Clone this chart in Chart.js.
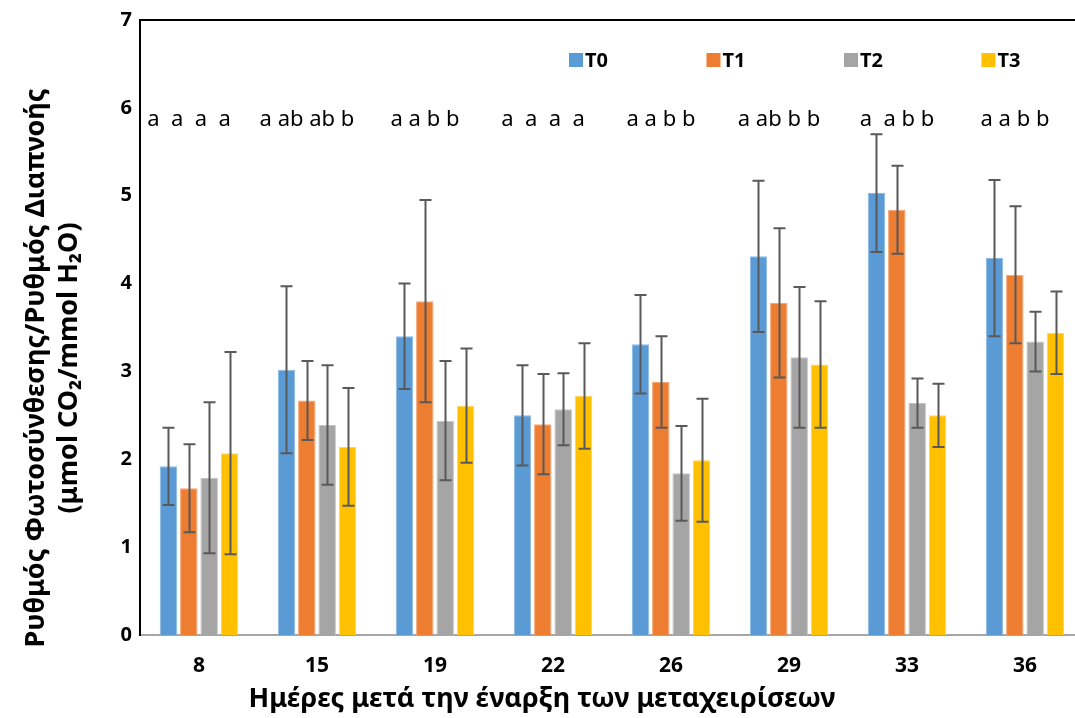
<!DOCTYPE html>
<html>
<head>
<meta charset="utf-8">
<script src="https://cdn.jsdelivr.net/npm/chart.js@4"></script>
<style>
  html, body { margin: 0; padding: 0; background: #fff; overflow: hidden; width: 1075px; height: 718px; }
  #wrap { width: 1084px; height: 718px; position: relative; }
</style>
</head>
<body>
<div id="wrap"><canvas id="c" width="1084" height="718"></canvas></div>
<script>
// Days after the start of treatments
const days = ['8', '15', '19', '22', '26', '29', '33', '36'];

// Ratio of photosynthesis rate to transpiration rate (means)
const t0 = [1.92, 3.02, 3.40, 2.50, 3.31, 4.31, 5.03, 4.29];
const t1 = [1.67, 2.67, 3.80, 2.40, 2.88, 3.78, 4.84, 4.10];
const t2 = [1.79, 2.39, 2.44, 2.57, 1.84, 3.16, 2.64, 3.34];
const t3 = [2.07, 2.14, 2.61, 2.72, 1.99, 3.08, 2.50, 3.44];

// Standard deviations (symmetric error bars)
const t0Err = [0.44, 0.95, 0.60, 0.57, 0.56, 0.86, 0.67, 0.89];
const t1Err = [0.50, 0.45, 1.15, 0.57, 0.52, 0.85, 0.50, 0.78];
const t2Err = [0.86, 0.68, 0.68, 0.41, 0.54, 0.80, 0.28, 0.34];
const t3Err = [1.15, 0.67, 0.65, 0.60, 0.70, 0.72, 0.36, 0.47];

// Significance letters for each day (T0 T1 T2 T3)
const letters = ['a  a  a  a', 'a ab ab b', 'a a b b', 'a  a  a  a', 'a a b b', 'a ab b b', 'a  a b b', 'a a b b'];

const yTicks = [0, 1, 2, 3, 4, 5, 6, 7];

const yTitle = ['Ρυθμός Φωτοσύνθεσης/Ρυθμός Διαπνοής', '(μmol CO₂/mmol H₂O)'];
const xTitle = 'Ημέρες μετά την έναρξη των μεταχειρίσεων';

const seriesNames = ['T0', 'T1', 'T2', 'T3'];
const seriesColors = ['#5B9BD5', '#ED7D31', '#A5A5A5', '#FFC000'];
const seriesEdges = ['#8DB9E4', '#F3A676', '#C4C4C4', '#FFD45C'];
const seriesValues = [t0, t1, t2, t3];
const seriesErrors = [t0Err, t1Err, t2Err, t3Err];

const FONT = '"Noto Sans", "Open Sans", sans-serif';

// Error bars, significance letters, legend, axis titles and frame line
const extras = {
  id: 'extras',
  afterDatasetsDraw(chart) {
    const ctx = chart.ctx;
    const y = chart.scales.y;
    const x = chart.scales.x;
    const area = chart.chartArea;

    // error bars
    ctx.save();
    ctx.strokeStyle = '#595959';
    ctx.lineWidth = 2;
    chart.data.datasets.forEach((ds, di) => {
      const meta = chart.getDatasetMeta(di);
      meta.data.forEach((bar, i) => {
        const v = ds.data[i];
        const e = seriesErrors[di][i];
        const yTop = y.getPixelForValue(v + e);
        const yBot = y.getPixelForValue(v - e);
        const bx = Math.round(bar.x) + 0.5;
        ctx.beginPath();
        ctx.moveTo(bx, yTop);
        ctx.lineTo(bx, yBot);
        ctx.moveTo(bx - 6, yTop);
        ctx.lineTo(bx + 6, yTop);
        ctx.moveTo(bx - 6, yBot);
        ctx.lineTo(bx + 6, yBot);
        ctx.stroke();
      });
    });
    ctx.restore();

    // significance letters
    ctx.save();
    ctx.fillStyle = '#000';
    ctx.font = '22px ' + FONT;
    ctx.textAlign = 'center';
    ctx.textBaseline = 'middle';
    letters.forEach((s, i) => {
      const cx = x.getPixelForValue(i) - 10;
      ctx.fillText(s, cx, y.getPixelForValue(5.86));
    });
    ctx.restore();

    // legend
    ctx.save();
    ctx.font = 'bold 20px ' + FONT;
    ctx.textBaseline = 'middle';
    ctx.textAlign = 'left';
    const ly = 60;
    seriesNames.forEach((n, i) => {
      const lx = 569 + i * 137.5;
      ctx.fillStyle = seriesColors[i];
      ctx.fillRect(lx, ly - 7, 14, 14);
      ctx.fillStyle = '#000';
      ctx.fillText(n, lx + 16, ly + 1);
    });
    ctx.restore();

    // top frame line
    ctx.save();
    ctx.strokeStyle = '#000';
    ctx.lineWidth = 2;
    ctx.beginPath();
    ctx.moveTo(area.left - 1, area.top);
    ctx.lineTo(chart.width, area.top);
    ctx.stroke();
    ctx.restore();

    // axis titles
    ctx.save();
    ctx.fillStyle = '#000';
    ctx.textAlign = 'center';
    ctx.textBaseline = 'middle';
    ctx.font = 'bold 27px ' + FONT;
    ctx.fillText(xTitle, 542, 699);
    ctx.translate(0, 368);
    ctx.rotate(-Math.PI / 2);
    ctx.fillText(yTitle[0], 0, 36);
    ctx.fillText(yTitle[1], 0, 69);
    ctx.restore();
  }
};

new Chart(document.getElementById('c'), {
  type: 'bar',
  data: {
    labels: days,
    datasets: seriesNames.map((n, i) => ({
      label: n,
      data: seriesValues[i],
      backgroundColor: seriesColors[i],
      borderColor: seriesEdges[i],
      borderWidth: 1,
      categoryPercentage: 0.69,
      barPercentage: 0.86
    }))
  },
  options: {
    responsive: false,
    animation: false,
    layout: { padding: { top: 20, right: 0, left: 0, bottom: 0 } },
    plugins: {
      legend: { display: false },
      tooltip: { enabled: false }
    },
    scales: {
      x: {
        grid: { display: false, drawTicks: false },
        border: { color: '#A6A6A6', width: 2 },
        ticks: {
          color: '#000',
          font: { family: FONT, size: 21, weight: 'bold' },
          padding: 18
        },
        afterFit(s) { s.height = 83; }
      },
      y: {
        min: 0,
        max: 7,
        afterBuildTicks(s) { s.ticks = yTicks.map(v => ({ value: v })); },
        grid: { display: false, drawTicks: false },
        border: { color: '#000', width: 2 },
        ticks: {
          color: '#000',
          font: { family: FONT, size: 20, weight: 'bold' },
          padding: 8
        },
        afterFit(s) { s.width = 140; }
      }
    }
  },
  plugins: [extras]
});
</script>
</body>
</html>
